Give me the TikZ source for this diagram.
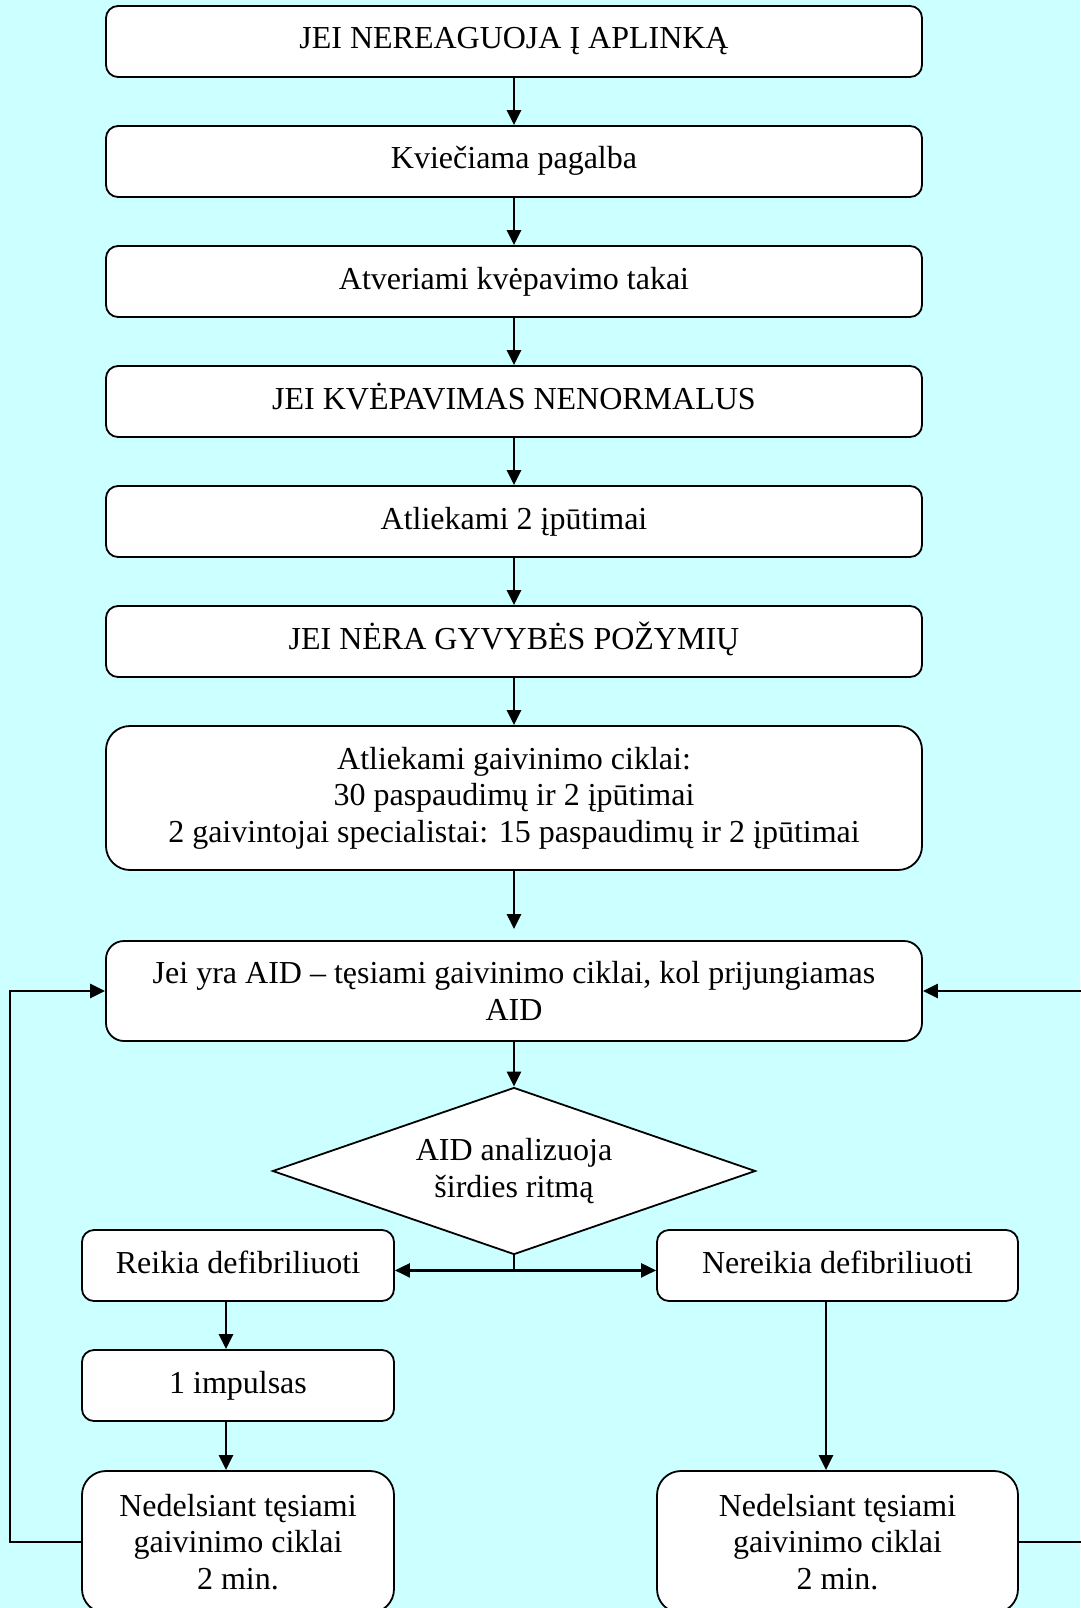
\documentclass[tikz,border=0pt]{standalone}
\usepackage{fontspec}
\setmainfont{Liberation Serif}
\usepackage{xcolor}
\usetikzlibrary{shapes.geometric, arrows.meta, positioning, calc}

\definecolor{bgcyan}{HTML}{CCFFFF}

\begin{document}
\begin{tikzpicture}[
    x=1pt, y=-1pt,
    box/.style={rectangle, rounded corners=12pt, draw=black, line width=1.8pt, fill=white, minimum width=816pt, minimum height=71pt, align=center, inner sep=0pt, font=\fontsize{32}{36.5}\selectfont},
    oneline/.style={box, text height=22pt, text depth=7pt},
    smallbox/.style={oneline, minimum width=312pt},
    tallbox/.style={box, rounded corners=24pt, minimum height=142pt},
    decision/.style={diamond, draw=black, line width=1.8pt, fill=white, aspect=2.9, minimum width=483pt, minimum height=167pt, inner sep=0pt, align=center, font=\fontsize{32}{36.5}\selectfont},
    arrow/.style={-{Triangle[length=15pt, width=14pt]}, line width=2.4pt},
    line/.style={line width=2.4pt}
]

% Background
\fill[bgcyan] (0,0) rectangle (1080,1608);
\useasboundingbox (0,0) rectangle (1080,1608);

% Main column
\node[oneline] (nereaguoja) at (514, 41.5) {JEI NEREAGUOJA Į APLINKĄ};
\node[oneline] (pagalba) at (514, 161.5) {Kviečiama pagalba};
\node[oneline] (takai) at (514, 281.5) {Atveriami kvėpavimo takai};
\node[oneline] (kvepavimas) at (514, 401.5) {JEI KVĖPAVIMAS NENORMALUS};
\node[oneline] (iputimai) at (514, 521.5) {Atliekami 2 įpūtimai};
\node[oneline] (pozymiai) at (514, 641.5) {JEI NĖRA GYVYBĖS POŽYMIŲ};
\node[box, rounded corners=24pt, minimum height=144pt] (ciklai) at (514, 798) {Atliekami gaivinimo ciklai:\\30 paspaudimų ir 2 įpūtimai\\2 gaivintojai specialistai: 15 paspaudimų ir 2 įpūtimai};
\node[box, rounded corners=18pt, minimum height=100pt] (aid) at (514, 991) {Jei yra AID – tęsiami gaivinimo ciklai, kol prijungiamas\\AID};
\node[decision] (analize) at (514, 1171) {AID analizuoja\\širdies ritmą};

% Branches
\node[smallbox] (reikia) at (238, 1265.5) {Reikia defibriliuoti};
\node[smallbox, minimum width=361pt] (nereikia) at (837.5, 1265.5) {Nereikia defibriliuoti};
\node[smallbox] (impulsas) at (238, 1385.5) {1 impulsas};
\node[tallbox, minimum width=312pt] (tesiamiL) at (238, 1542) {Nedelsiant tęsiami\\gaivinimo ciklai\\2 min.};
\node[tallbox, minimum width=361pt] (tesiamiR) at (837.5, 1542) {Nedelsiant tęsiami\\gaivinimo ciklai\\2 min.};

% Arrows
\draw[arrow] (nereaguoja) -- (pagalba);
\draw[arrow] (pagalba) -- (takai);
\draw[arrow] (takai) -- (kvepavimas);
\draw[arrow] (kvepavimas) -- (iputimai);
\draw[arrow] (iputimai) -- (pozymiai);
\draw[arrow] (pozymiai) -- (ciklai);
\draw[arrow] (ciklai.south) -- ([yshift=11pt]aid.north);
\draw[arrow] (aid) -- (analize);

% Split
\draw[line] (analize.south) -- ++(0,15) coordinate (split);
\draw[arrow] (split) -- (split -| reikia.east);
\draw[arrow] (split) -- (split -| nereikia.west);

\draw[arrow] ([xshift=-12pt]reikia.south) -- ([xshift=-12pt]impulsas.north);
\draw[arrow] ([xshift=-12pt]impulsas.south) -- ([xshift=-12pt]tesiamiL.north);
\draw[arrow] ([xshift=-11.5pt]nereikia.south) -- ([xshift=-11.5pt]tesiamiR.north);

% Loops back
\draw[arrow] (tesiamiL.west) -- (10, 1542) |- (aid.west);
\draw[arrow] (tesiamiR.east) -- (1083, 1542) |- (aid.east);

\end{tikzpicture}
\end{document}
